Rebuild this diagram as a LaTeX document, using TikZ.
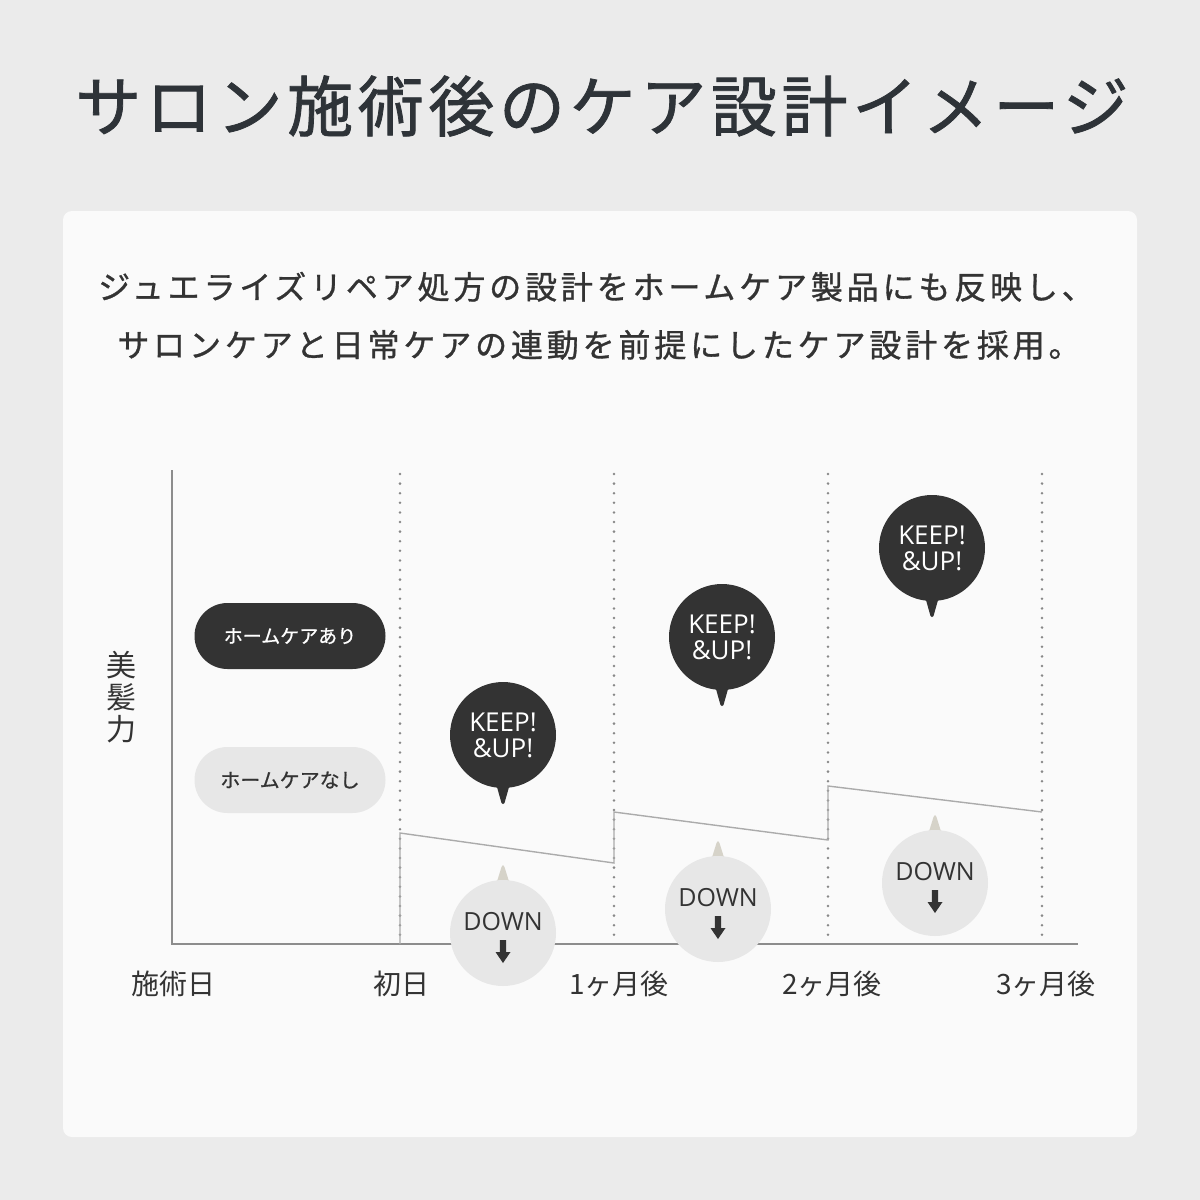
\documentclass[tikz,border=0pt]{standalone}
\usepackage{fontspec}
\setmainfont{Noto Sans CJK JP}
\newfontfamily\jptitle[LetterSpace=7,FakeBold=1.2]{Noto Sans CJK JP}
\newfontfamily\jpsub[LetterSpace=12,FakeBold=1.0]{Noto Sans CJK JP}
\newfontfamily\jpmed[FakeBold=0.8]{Noto Sans CJK JP}
\newfontfamily\jp{Noto Sans CJK JP}
\newfontfamily\lat{Open Sans}
\usetikzlibrary{calc}
\definecolor{bg}{HTML}{EBEBEB}
\definecolor{card}{HTML}{FAFAFA}
\definecolor{ink}{HTML}{333333}
\definecolor{titleink}{HTML}{2E3338}
\definecolor{lightc}{HTML}{E7E7E7}
\definecolor{tailc}{HTML}{D6D3C9}
\definecolor{axisc}{HTML}{8C8C8C}
\definecolor{linec}{HTML}{ABABAB}
\definecolor{dotc}{HTML}{888888}
\begin{document}
\begin{tikzpicture}[x=1pt,y=-1pt,
  pilldark/.style={fill=ink,text=white,rounded corners=33pt,minimum width=191pt,minimum height=66pt,inner sep=0pt,font=\jpmed\fontsize{19}{22}\selectfont},
  pilllight/.style={fill=lightc,text=ink,rounded corners=33pt,minimum width=191pt,minimum height=66pt,inner sep=0pt,font=\jpmed\fontsize{20}{22}\selectfont},
  keepc/.style={circle,fill=ink,text=white,minimum size=106pt,inner sep=0pt,align=center,font=\lat\fontsize{26}{28}\selectfont},
  downc/.style={circle,fill=lightc,minimum size=106pt,inner sep=0pt},
  downtxt/.style={text=ink,inner sep=0pt,font=\lat\fontsize{25}{27}\selectfont},
  axislabel/.style={text=ink,anchor=base,inner sep=0pt,font=\jp\fontsize{28}{30}\selectfont},
  axisline/.style={draw=axisc,line width=1.4pt},
  dotline/.style={draw=dotc,line width=2.8pt,line cap=round,dash pattern=on 0pt off 9.6pt},
  sawline/.style={draw=linec,line width=1.4pt,line join=miter}
]
\useasboundingbox (0,0) rectangle (1200,1200);
\fill[bg] (0,0) rectangle (1200,1200);
\fill[card,rounded corners=9pt] (63,211) rectangle (1137,1137);

% title & subtitle
\node[anchor=base,inner sep=0pt,text=titleink,font=\jptitle\fontsize{66}{70}\selectfont] (title) at (602,131) {サロン施術後のケア設計イメージ};
\node[anchor=base,inner sep=0pt,text=ink,font=\jpsub\fontsize{32}{36}\selectfont] (sub1) at (596,299) {ジュエライズリペア処方の設計をホームケア製品にも反映し、};
\node[anchor=base,inner sep=0pt,text=ink,font=\jpsub\fontsize{32}{36}\selectfont] (sub2) at (599,357) {サロンケアと日常ケアの連動を前提にしたケア設計を採用。};

% axes
\coordinate (O) at (172,944);
\coordinate (Ytop) at (172,470);
\coordinate (Xend) at (1078,944);
\draw[axisline] (Ytop) -- (O) -- (Xend);

% dotted guides
\foreach \x/\n in {400/a,614/b,828/c,1042/d}{
  \coordinate (top\n) at (\x,474);
  \coordinate (bot\n) at (\x,944);
  \draw[dotline] (top\n) -- (bot\n);
}

% sawtooth
\coordinate (s0) at (400,944);
\coordinate (s1) at (400,833);
\coordinate (s2) at (614,863);
\coordinate (s3) at (614,812);
\coordinate (s4) at (828,840);
\coordinate (s5) at (828,786);
\coordinate (s6) at (1042,812);
\draw[sawline] (s0) -- (s1) -- (s2) -- (s3) -- (s4) -- (s5) -- (s6);

% axis labels
\node[axislabel] (l0) at (173,994) {施術日};
\node[axislabel] (l1) at (401,994) {初日};
\node[axislabel] (l2) at (619,994) {1ヶ月後};
\node[axislabel] (l3) at (832,994) {2ヶ月後};
\node[axislabel] (l4) at (1046,994) {3ヶ月後};
\node[text=ink,inner sep=0pt,align=center,font=\jp\fontsize{30}{32}\selectfont] (ylab) at (121,697) {美\\髪\\力};

% legend
\node[pilldark] (withcare) at (290,636) {ホームケアあり};
\node[pilllight] (nocare) at (290,780) {ホームケアなし};

% KEEP bubbles
\foreach \cx/\cy/\n in {503/735/1,722/637/2,932/548/3}{
  \begin{scope}[shift={(\cx,\cy)}]
    \fill[ink] (-8,45) -- (-1.5,68) -- (0,69) -- (1.5,68) -- (8,45) -- cycle;
  \end{scope}
  \node[keepc] (keep\n) at (\cx,\cy) {KEEP!\\[-2pt]\&UP!};
}

% DOWN bubbles
\foreach \cx/\cy/\n in {503/933/1,718/909/2,935/883/3}{
  \begin{scope}[shift={(\cx,\cy)}]
    \fill[tailc] (-8,-45) -- (-1.5,-66) -- (0,-68) -- (1.5,-66) -- (8,-45) -- cycle;
  \end{scope}
  \node[downc] (down\n) at (\cx,\cy) {};
  \node[downtxt] (downt\n) at (\cx,\cy-11) {DOWN};
  \begin{scope}[shift={(\cx,\cy)}]
    \fill[ink] (-3.2,7) -- (3.2,7) -- (3.2,19) -- (7.5,19) -- (0,30) -- (-7.5,19) -- (-3.2,19) -- cycle;
  \end{scope}
}
\end{tikzpicture}
\end{document}
